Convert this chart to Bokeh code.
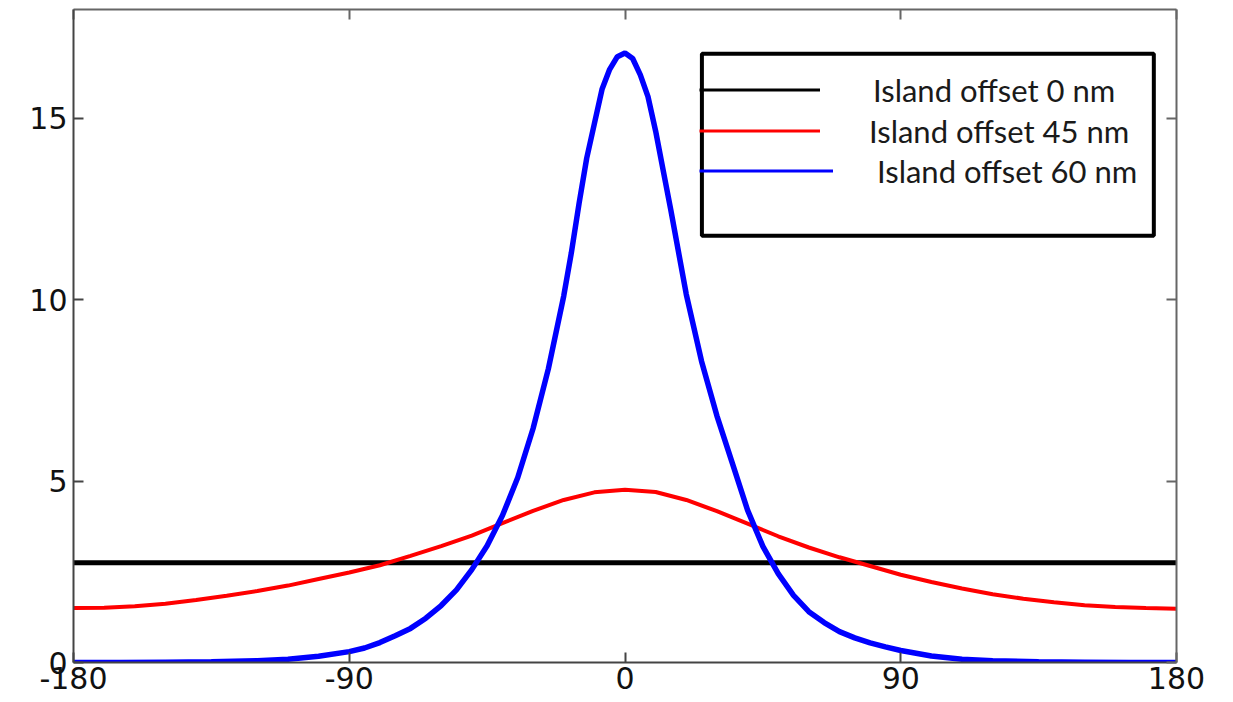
from bokeh.plotting import figure
from bokeh.models import Range1d, LinearAxis, FixedTicker, Legend, LegendItem, BoxAnnotation
from bokeh.embed import file_html
from bokeh.resources import INLINE

# ---- data ----
angle_black = [-180, 180]
black = [2.75, 2.75]

angle_red = [-180, -170, -160, -150, -140, -130, -120, -110, -100, -90, -80, -70, -60, -50, -40,
             -30, -20, -10, 0, 10, 20, 30, 40, 50, 60, 70, 80, 90, 100, 110, 120, 130, 140, 150,
             160, 170, 180]
red = [1.50, 1.51, 1.55, 1.62, 1.72, 1.84, 1.97, 2.12, 2.30, 2.48, 2.68, 2.94, 3.21, 3.50, 3.84,
       4.18, 4.48, 4.69, 4.76, 4.70, 4.48, 4.17, 3.83, 3.48, 3.17, 2.90, 2.66, 2.42, 2.22, 2.04,
       1.88, 1.76, 1.66, 1.58, 1.53, 1.50, 1.48]

angle_blue = [-180, -165, -150, -135, -120, -110, -100, -90, -85, -80, -75, -70, -65, -60, -55,
              -50, -45, -40, -35, -30, -25, -20, -17.5, -15, -12.5, -10, -7.5, -5, -2.5, 0,
              2.5, 5, 7.5, 10, 12.5, 15, 17.5, 20, 25, 30, 35, 40, 45, 50, 55, 60, 65, 70, 75,
              80, 85, 90, 100, 110, 120, 135, 150, 165, 180]
blue = [0.0, 0.0, 0.01, 0.02, 0.05, 0.09, 0.17, 0.30, 0.40, 0.55, 0.74, 0.94, 1.22, 1.57, 2.0,
        2.56, 3.22, 4.05, 5.1, 6.45, 8.1, 10.1, 11.3, 12.65, 13.9, 14.85, 15.8, 16.35, 16.7, 16.8,
        16.65, 16.2, 15.6, 14.65, 13.55, 12.45, 11.3, 10.15, 8.3, 6.8, 5.5, 4.2, 3.2, 2.45, 1.85,
        1.4, 1.1, 0.85, 0.68, 0.54, 0.43, 0.33, 0.18, 0.09, 0.05, 0.02, 0.01, 0.0, 0.0]

x_ticks = [-180, -90, 0, 90, 180]
x_tick_labels = ["-180", "-90", "0", "90", "180"]
y_ticks = [0, 5, 10, 15]
series_labels = ["Island offset 0 nm", "Island offset 45 nm", "Island offset 60 nm"]

# ---- figure ----
p = figure(width=1233, height=702, x_range=Range1d(-180, 180), y_range=Range1d(0, 18),
           output_backend="svg", toolbar_location=None,
           min_border_left=73, min_border_right=57, min_border_top=9, min_border_bottom=40)
p.grid.visible = False
p.outline_line_color = None
p.background_fill_color = "white"
p.border_fill_color = "white"


def style_axis(ax, color, show_labels=True):
    ax.major_tick_in = 10
    ax.major_tick_out = 0
    ax.minor_tick_in = 0
    ax.minor_tick_out = 0
    ax.axis_line_width = 2
    ax.axis_line_color = color
    ax.major_tick_line_color = color
    ax.major_tick_line_width = 2
    ax.major_label_text_font = "DejaVu Sans"
    ax.major_label_text_font_size = "30px"
    ax.major_label_text_color = "#111111"
    ax.major_label_standoff = 4
    if not show_labels:
        ax.major_label_text_font_size = "1px"
        ax.major_label_standoff = 0


p.xaxis.ticker = FixedTicker(ticks=x_ticks)
p.xaxis.major_label_overrides = dict(zip(x_ticks, x_tick_labels))
p.yaxis.ticker = FixedTicker(ticks=y_ticks)
for ax in p.xaxis + p.yaxis:
    style_axis(ax, "#444444")
p.yaxis.major_label_standoff = 6

top_ax = LinearAxis(ticker=FixedTicker(ticks=x_ticks),
                    major_label_overrides={t: "" for t in x_ticks})
style_axis(top_ax, "#666666", show_labels=False)
p.add_layout(top_ax, "above")
right_ax = LinearAxis(ticker=FixedTicker(ticks=y_ticks),
                      major_label_overrides={t: "" for t in y_ticks})
style_axis(right_ax, "#666666", show_labels=False)
p.add_layout(right_ax, "right")

# ---- lines ----
p.line(angle_black, black, line_color="black", line_width=5)
p.line(angle_red, red, line_color="#ff0000", line_width=4)
p.line(angle_blue, blue, line_color="#0000ff", line_width=5.5)

# legend proxies (thin lines as in the original legend), hidden from the plot area
lb = p.line(angle_black, black, line_color="black", line_width=3, visible=False)
lr = p.line(angle_red, red, line_color="#ff0000", line_width=3, visible=False)
lu = p.line(angle_blue, blue, line_color="#0000ff", line_width=3, visible=False)

# one single-row legend per entry so each label sits where it does in the original
# (location = offset of the legend's bottom-left corner from the frame's bottom-left)
rows = [(lb, series_labels[0], 121, 53, 552),
        (lr, series_labels[1], 121, 49, 511),
        (lu, series_labels[2], 134, 44, 471)]
for rend, lab, gw, standoff, ypos in rows:
    lg = Legend(
        items=[LegendItem(label=lab, renderers=[rend])],
        location=(626, ypos), orientation="vertical",
        glyph_width=gw, glyph_height=41, label_height=41, label_standoff=standoff,
        spacing=0, padding=0, margin=0,
        border_line_color=None, background_fill_alpha=0,
        label_text_font="Lato", label_text_font_size="31px", label_text_color="#1a1a1a",
    )
    p.add_layout(lg)

box = BoxAnnotation(left=25.1, right=172.6, bottom=11.76, top=16.78,
                    fill_alpha=0, line_color="black", line_alpha=1.0, line_width=4)
p.add_layout(box)

open("out.html", "w").write(file_html(p, INLINE))
